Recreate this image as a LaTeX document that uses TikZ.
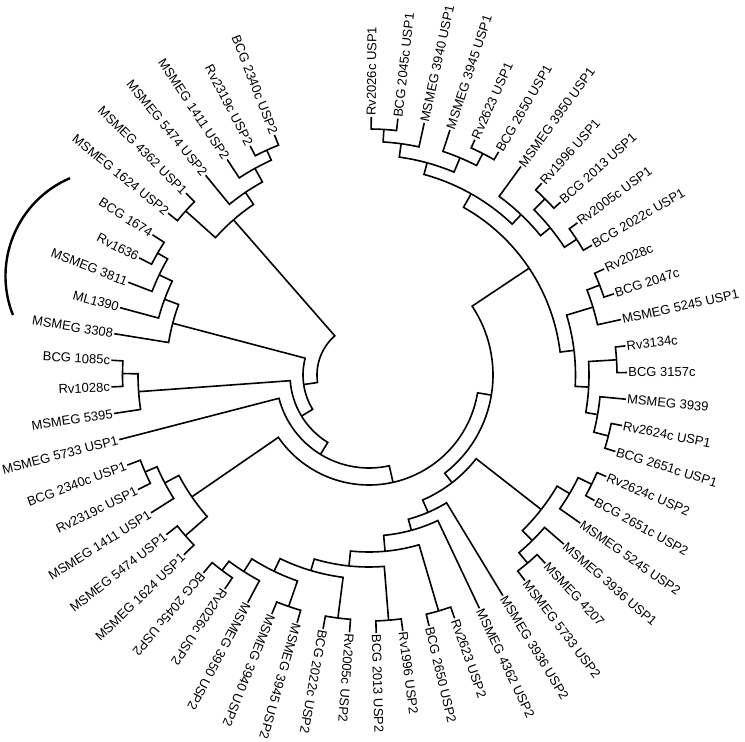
\documentclass[tikz,border=0pt]{standalone}
\usepackage{fontspec}
\setmainfont{Liberation Sans}

\tikzset{
  branch/.style={line width=1.6pt, line join=miter},
  leaflabel/.style={inner sep=1.2pt, font=\fontsize{13}{15}\selectfont},
  bracket/.style={line width=2.4pt}
}

% leaf: name, index, text
\newcommand\leaf[3]{%
  \pgfmathsetmacro\lang{89.5-5.93*(#2-1)}%
  \expandafter\xdef\csname ang@#1\endcsname{\lang}%
  \expandafter\xdef\csname rad@#1\endcsname{258}%
  \coordinate (#1) at (\lang:258);%
  \ifdim\lang pt<-132pt
    \pgfmathsetmacro\lrot{\lang+180}%
    \node[leaflabel, anchor=east, rotate=\lrot] (#1t) at (#1) {#3};%
  \else
    \node[leaflabel, anchor=west, rotate=\lang] (#1t) at (#1) {#3};%
  \fi}

\newcommand\branch[2]{%
  \draw[branch] (#1) arc[start angle=\csname ang@#1\endcsname,
    end angle=\csname ang@#2\endcsname, radius=\csname rad@#1\endcsname] -- (#2);}

% clade: name, child, child, radius
\newcommand\clade[4]{%
  \pgfmathsetmacro\cang{(\csname ang@#2\endcsname+\csname ang@#3\endcsname)/2}%
  \expandafter\xdef\csname ang@#1\endcsname{\cang}%
  \expandafter\xdef\csname rad@#1\endcsname{#4}%
  \coordinate (#1) at (\cang:#4);%
  \branch{#1}{#2}\branch{#1}{#3}}

\begin{document}
\begin{tikzpicture}[x=1pt, y=1pt]
\useasboundingbox (0,0) rectangle (745,-742);

\begin{scope}[shift={(369,-375)}]
\foreach \t [count=\k] in {Rv2026c USP1, BCG 2045c USP1, MSMEG 3940 USP1,
  MSMEG 3945 USP1, Rv2623 USP1, BCG 2650 USP1, MSMEG 3950 USP1, Rv1996 USP1,
  BCG 2013 USP1, Rv2005c USP1, BCG 2022c USP1, Rv2028c, BCG 2047c,
  MSMEG 5245 USP1, Rv3134c, BCG 3157c, MSMEG 3939, Rv2624c USP1,
  BCG 2651c USP1, Rv2624c USP2, BCG 2651c USP2, MSMEG 5245 USP2,
  MSMEG 3936 USP1, MSMEG 4207, MSMEG 5733 USP2, MSMEG 3936 USP2,
  MSMEG 4362 USP2, Rv2623 USP2, BCG 2650 USP2, Rv1996 USP2, BCG 2013 USP2,
  Rv2005c USP2, BCG 2022c USP2, MSMEG 3945 USP2, MSMEG 3940 USP2,
  MSMEG 3950 USP2, Rv2026c USP2, BCG 2045c USP2, MSMEG 1624 USP1,
  MSMEG 5474 USP1, MSMEG 1411 USP1, Rv2319c USP1, BCG 2340c USP1,
  MSMEG 5733 USP1, MSMEG 5395, Rv1028c, BCG 1085c, MSMEG 3308, ML1390,
  MSMEG 3811, Rv1636, BCG 1674, MSMEG 1624 USP2, MSMEG 4362 USP1,
  MSMEG 5474 USP2, MSMEG 1411 USP2, Rv2319c USP2, BCG 2340c USP2}
  {\leaf{l\k}{\k}{\t}}

% USP1 top
\clade{c1-2}{l1}{l2}{246}
\clade{t1}{c1-2}{l3}{233.5}
\clade{c5-6}{l5}{l6}{249}
\clade{t2}{l4}{c5-6}{235.5}
\clade{t12}{t1}{t2}{220}
\clade{c8-9}{l8}{l9}{249}
\clade{c10-11}{l10}{l11}{248}
\clade{t3b}{c8-9}{c10-11}{233.5}
\clade{t3}{l7}{t3b}{221}
\clade{top}{t12}{t3}{208}
% right
\clade{c12-13}{l12}{l13}{247.5}
\clade{r1}{c12-13}{l14}{234}
\clade{c15-16}{l15}{l16}{248}
\clade{c18-19}{l18}{l19}{247}
\clade{r2b}{l17}{c18-19}{232}
\clade{r2}{c15-16}{r2b}{220}
\clade{right}{r1}{r2}{206.5}
\clade{p}{top}{right}{192.5}
% lower right
\clade{c20-21}{l20}{l21}{248}
\clade{xa}{c20-21}{l22}{233}
\clade{c24-25}{l24}{l25}{246}
\clade{xb}{l23}{c24-25}{232.5}
\clade{x}{xa}{xb}{218.5}
% USP2 bottom
\clade{n1}{l37}{l38}{244.5}
\clade{n2}{n1}{l36}{233}
\clade{c34-35}{l34}{l35}{245}
\clade{n3}{n2}{c34-35}{218}
\clade{c32-33}{l32}{l33}{245}
\clade{n4}{n3}{c32-33}{204}
\clade{c30-31}{l30}{l31}{246}
\clade{n5}{n4}{c30-31}{192}
\clade{c28-29}{l28}{l29}{246}
\clade{n6}{n5}{c28-29}{177}
\clade{n7}{n6}{l27}{161}
\clade{n8}{n7}{l26}{149.5}
\clade{n9}{n8}{x}{136}
\clade{q6}{p}{n9}{124}
% lower left
\clade{c42-43}{l42}{l43}{244}
\clade{va}{c42-43}{l41}{231}
\clade{c39-40}{l39}{l40}{244}
\clade{v}{va}{c39-40}{215}
\clade{q7}{q6}{v}{110}
\clade{q8}{q7}{l44}{93}
\clade{c46-47}{l46}{l47}{246.5}
\clade{b}{c46-47}{l45}{231}
\clade{q9}{b}{q8}{79}
% left
\clade{c51-52}{l51}{l52}{244}
\clade{l3n}{c51-52}{l50}{232.5}
\clade{l2n}{l3n}{l49}{218}
\clade{left}{l2n}{l48}{203}
\clade{q10}{left}{q9}{66}
% upper left
\clade{c53-54}{l53}{l54}{246}
\clade{c57-58}{l57}{l58}{247}
\clade{uc}{l56}{c57-58}{236}
\clade{ub}{l55}{uc}{220.5}
\clade{u}{c53-54}{ub}{206}
\clade{root}{u}{q10}{52}
\end{scope}

\draw[bracket] (112,-276) ++(113.2:106.5) arc[start angle=113.2, end angle=201.5, radius=106.5];
\end{tikzpicture}
\end{document}
